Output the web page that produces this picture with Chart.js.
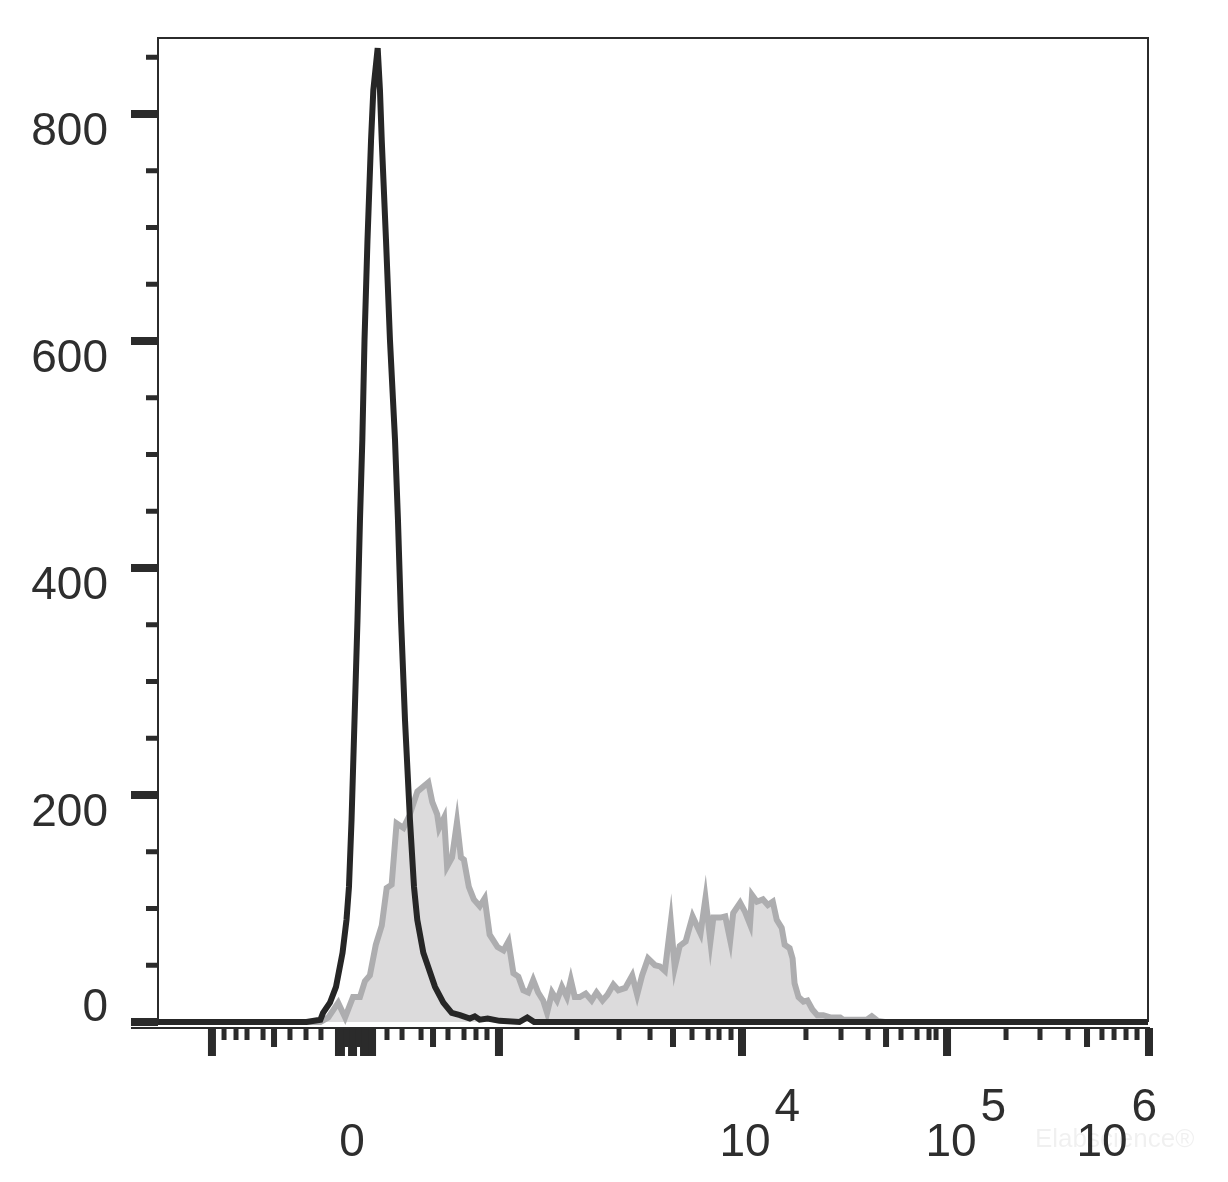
<!DOCTYPE html>
<html>
<head>
<meta charset="utf-8">
<script src="https://cdn.jsdelivr.net/npm/chart.js@4"></script>
<style>
  html, body { margin: 0; padding: 0; background: #fff; }
</style>
</head>
<body>
<canvas id="myChart" width="1228" height="1182"></canvas>
<script>
// channel positions (0..1000 across the plot) and event counts
const blackX = [0, 150, 164, 166.7, 173.7, 179.8, 186.4, 190.4, 192.9, 195.5, 198.5, 201.5, 204, 206.4, 208.6, 211.6, 215.2, 217.5, 221.9,
  224.2, 226, 230.3, 234.3, 239.4, 242.4, 245.5, 249.5, 254.5, 258.6, 261.9, 268, 279.8, 288.2, 296.7, 305, 315, 320, 325, 333, 345, 365, 373, 380, 1000];
const blackY = [0, 0, 2, 8, 17, 31, 61, 90, 119, 178, 266, 354, 442, 513, 601, 689, 777, 821, 858,
  821, 777, 689, 601, 513, 442, 354, 266, 178, 119, 90, 61, 31, 17, 8, 6, 3, 5, 2, 3, 1, 0, 4, 0, 0];

const grayX = [150, 164, 172, 182, 189, 197, 204, 209, 214, 220, 226, 231, 236, 241, 248, 254, 262, 273, 277, 282,
  284, 289, 292, 297, 302, 306, 309, 314, 319, 325, 330, 335, 343, 349, 354, 359, 364, 369, 374, 379,
  384, 389, 393, 398, 403, 408, 413, 417, 421, 426, 432, 438, 443, 449, 454, 460, 465, 472, 479, 484,
  489, 495, 502, 507, 512, 518, 522, 527, 533, 540, 548, 553, 558, 561, 568, 573, 578, 581, 588, 593,
  598, 600, 605, 611, 616, 621, 625, 630, 633, 638, 641, 643, 647, 652, 656, 661, 666, 672, 679, 689,
  692, 716, 721, 727, 734, 1000];
const grayY = [0, 0, 4, 17, 4, 22, 22, 36, 41, 68, 85, 118, 121, 175, 171, 182, 203, 211, 194, 183,
  171, 180, 137, 145, 176, 145, 143, 119, 108, 102, 109, 77, 66, 63, 71, 43, 40, 28, 26, 37,
  26, 19, 8, 26, 19, 31, 22, 37, 22, 22, 25, 19, 26, 19, 24, 33, 28, 30, 41, 24,
  41, 56, 50, 49, 45, 88, 48, 67, 71, 93, 78, 109, 71, 92, 92, 93, 72, 96, 105, 97,
  86, 112, 106, 108, 103, 106, 90, 83, 68, 65, 56, 34, 22, 18, 19, 11, 6, 6, 4, 4,
  2, 2, 5, 1, 0, 0];

const yMajor = [0, 200, 400, 600, 800];
const yMinor = [50, 100, 150, 250, 300, 350, 450, 500, 550, 650, 700, 750, 850];

// biexponential axis ticks, in channel units
const xLong = [54.5, 182.8, 184.8, 196, 197, 208.1, 212.1, 216.2, 344.4, 589.9, 797, 1001];
const xMedium = [117.2, 190.4, 202.5, 277.8, 520.2, 735.4, 938.4];
const xShort = [66.7, 78.8, 89.9, 106.1, 133.3, 149.5, 164.6, 231.3, 246.5, 265.7, 292.9, 309.1, 321.2, 332.3,
  423.2, 465.7, 497, 539.4, 555.6, 566.7, 578.8, 654.5, 689.9, 717.2, 750.5, 766.7, 778.8, 785.9,
  856.6, 890.9, 919.2, 953.5, 965.7, 977.8, 988.9];
const xLabelAt = [196, 589.9, 797, 1001];
const xLabelBase = ["0", "10", "10", "10"];
const xLabelExp = ["", "4", "5", "6"];

const INK = "#2b2b2b";
const FONT = "46px 'Liberation Sans', Arial, sans-serif";

const axisTicks = {
  id: "axisTicks",
  afterDraw(chart) {
    const ctx = chart.ctx;
    const a = chart.chartArea;
    const xs = chart.scales.x;
    const ys = chart.scales.y;
    const axisY = a.bottom;
    ctx.save();
    ctx.fillStyle = INK;
    ctx.strokeStyle = INK;

    // frame
    ctx.lineWidth = 2;
    ctx.beginPath();
    ctx.moveTo(a.left, ys.getPixelForValue(0));
    ctx.lineTo(a.left, a.top);
    ctx.lineTo(a.right, a.top);
    ctx.lineTo(a.right, ys.getPixelForValue(0));
    ctx.stroke();
    ctx.beginPath();
    ctx.moveTo(a.left - 27, axisY);
    ctx.lineTo(a.right + 2, axisY);
    ctx.stroke();

    // y ticks
    yMajor.forEach((v) => {
      const p = ys.getPixelForValue(v);
      ctx.fillRect(a.left - 27, p - 4, 27, 8);
    });
    yMinor.forEach((v) => {
      const p = ys.getPixelForValue(v);
      ctx.fillRect(a.left - 12, p - 2.5, 12, 5);
    });

    // x ticks
    xLong.forEach((v) => ctx.fillRect(xs.getPixelForValue(v) - 4, axisY, 8, 28));
    xMedium.forEach((v) => ctx.fillRect(xs.getPixelForValue(v) - 3, axisY, 6, 19));
    xShort.forEach((v) => ctx.fillRect(xs.getPixelForValue(v) - 2.5, axisY, 5, 12));

    // y labels
    ctx.fillStyle = "#2e2e2e";
    ctx.font = FONT;
    ctx.textAlign = "right";
    ctx.textBaseline = "middle";
    yMajor.forEach((v) => {
      const p = ys.getPixelForValue(v);
      ctx.fillText(String(v), a.left - 50, v === 0 ? p - 14 : p + 18);
    });

    // x labels
    const shift = [0, 3, 4, -47];
    xLabelAt.forEach((v, i) => {
      const cx = xs.getPixelForValue(v) + shift[i];
      ctx.textAlign = "center";
      ctx.textBaseline = "middle";
      ctx.fillText(xLabelBase[i], cx, 1143);
      if (xLabelExp[i]) {
        const w = ctx.measureText(xLabelBase[i]).width;
        ctx.textAlign = "left";
        ctx.fillText(xLabelExp[i], cx + w / 2 + 4, 1108);
      }
    });

    // watermark
    ctx.fillStyle = "rgba(0,0,0,0.06)";
    ctx.font = "26px 'Liberation Sans', Arial, sans-serif";
    ctx.textAlign = "left";
    ctx.fillText("Elabscience®", 1035, 1140);
    ctx.restore();
  },
};

const ctx = document.getElementById("myChart").getContext("2d");
const myChart = new Chart(ctx, {
  type: "line",
  data: {
    datasets: [
      {
        label: "isotype",
        data: blackX.map((x, i) => ({ x, y: blackY[i] })),
        borderColor: "#262626",
        borderWidth: 6,
        pointRadius: 0,
        fill: false,
        tension: 0,
        order: 0,
      },
      {
        label: "stained",
        data: grayX.map((x, i) => ({ x, y: grayY[i] })),
        borderColor: "#adadaf",
        backgroundColor: "#dcdbdc",
        borderWidth: 6,
        pointRadius: 0,
        fill: "origin",
        tension: 0,
        order: 1,
      },
    ],
  },
  options: {
    responsive: false,
    animation: false,
    layout: { padding: { left: 158, right: 80, top: 38, bottom: 154 } },
    plugins: { legend: { display: false }, tooltip: { enabled: false } },
    scales: {
      x: { type: "linear", min: 0, max: 1000, display: false },
      y: { type: "linear", min: -5.29, max: 866.96, display: false },
    },
  },
  plugins: [axisTicks],
});
</script>
</body>
</html>
